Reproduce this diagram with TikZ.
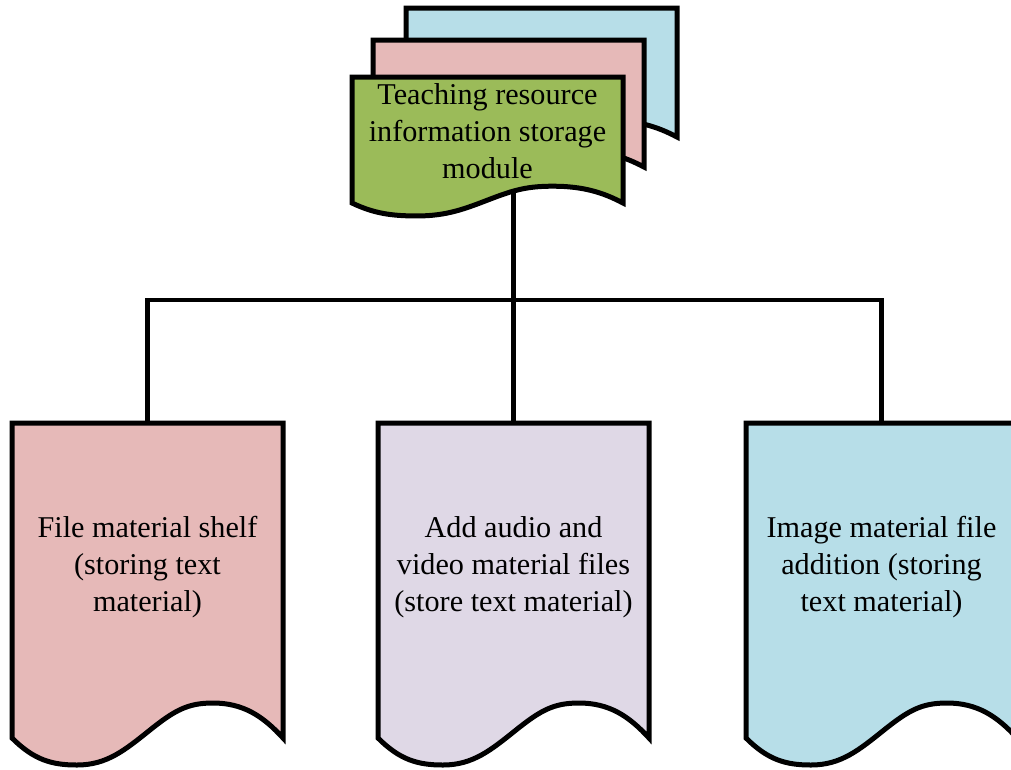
\documentclass[tikz,border=0pt]{standalone}
\usepackage{fontspec}
\setmainfont{Liberation Serif}
\usetikzlibrary{calc}

\definecolor{leafgreen}{HTML}{9BBB59}
\definecolor{rosefill}{HTML}{E6B9B8}
\definecolor{skyfill}{HTML}{B7DEE8}
\definecolor{lilacfill}{HTML}{DFD8E6}

\tikzset{
  docframe/.style={inner sep=0pt, outer sep=0pt, minimum width=271pt, anchor=north west},
  docline/.style={line width=5pt, draw=black, line join=miter},
  conn/.style={line width=4.5pt, draw=black},
  doctext/.style={align=center, font=\fontsize{30.2}{37}\selectfont, inner sep=0pt},
}

% Document outline with a wavy lower edge; #3 scales the wave height
\newcommand\docoutline[3]{%
  \draw[docline, fill=#2]
    (#1.north west) -- (#1.north east) -- (#1.south east)
    .. controls ($(#1.south west)+(251,{-22*#3})$) and ($(#1.south west)+(231,{-35*#3})$)
    .. ($(#1.south west)+(201,{-35*#3})$)
    .. controls ($(#1.south west)+(176,{-35*#3})$) and ($(#1.south west)+(163,{-28*#3})$)
    .. ($(#1.south west)+(138,{-8*#3})$)
    .. controls ($(#1.south west)+(113,{12*#3})$) and ($(#1.south west)+(95,{27*#3})$)
    .. ($(#1.south west)+(65,{27*#3})$)
    .. controls ($(#1.south west)+(40,{27*#3})$) and ($(#1.south west)+(22,{22*#3})$)
    .. (#1.south west) -- cycle;
}

\begin{document}
\begin{tikzpicture}[x=1pt,y=-1pt]
\useasboundingbox (0,0) rectangle (1011,769);
\clip (0,0) rectangle (1011,769);

% frames of the documents
\node[docframe, minimum height=129pt] (stackback) at (406,8) {};
\node[docframe, minimum height=127pt] (stackmid) at (373,40) {};
\node[docframe, minimum height=126pt] (module) at (352,77) {};
\node[docframe, minimum height=315pt] (file) at (12,423) {};
\node[docframe, minimum height=315pt] (media) at (378,423) {};
\node[docframe, minimum height=315pt] (image) at (746,423) {};
\coordinate (bus) at ($(media.north)+(0,-123)$);

% connectors (drawn first, so the shapes cover their ends)
\draw[conn] (module.center -| media.north) -- (media.north);
\draw[conn] (file.north) |- (bus) -| (image.north);

% stacked module documents, back to front
\docoutline{stackback}{skyfill}{0.48}
\docoutline{stackmid}{rosefill}{0.48}
\docoutline{module}{leafgreen}{0.48}

% sub-module documents
\docoutline{file}{rosefill}{1}
\docoutline{media}{lilacfill}{1}
\docoutline{image}{skyfill}{1}

% labels
\node[doctext] (module-text) at ($(module.north)+(0,54)$) {Teaching resource\\information storage\\module};
\node[doctext] (file-text) at ($(file.north)+(0,144)$) {File material shelf\\(storing text\\material)};
\node[doctext] (media-text) at ($(media.north)+(0,144)$) {Add audio and\\video material files\\(store text material)};
\node[doctext] (image-text) at ($(image.north)+(0,144)$) {Image material file\\addition (storing\\text material)};
\end{tikzpicture}
\end{document}
